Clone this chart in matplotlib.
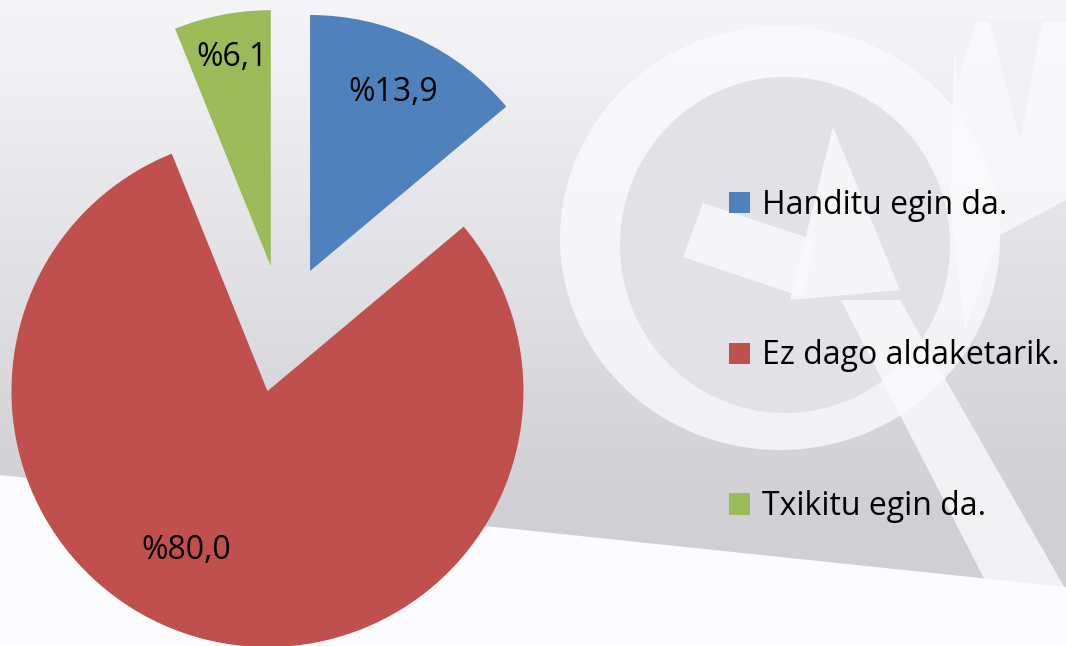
import numpy as np
import matplotlib
matplotlib.use("Agg")
import matplotlib.pyplot as plt
from matplotlib.patches import Polygon, Ellipse, Patch

# ---- data ----
categories = ["Handitu egin da.", "Ez dago aldaketarik.", "Txikitu egin da."]
values = [13.9, 80.0, 6.1]
colors = ["#4F81BD", "#C0504D", "#9BBB59"]

W, H = 1066, 646
FONT = "Open Sans"
FS = 23
fig = plt.figure(figsize=(W / 100, H / 100), dpi=100)

# ---- background (pixel coordinates) ----
bg = fig.add_axes([0, 0, 1, 1])
bg.set_xlim(0, W)
bg.set_ylim(H, 0)
bg.axis("off")
top = np.array([0.962, 0.962, 0.970])
bot = np.array([0.812, 0.812, 0.832])


def gcol(y):
    tt = min(y / H / 0.78, 1)
    return top * (1 - tt) + bot * tt


grad = np.array([gcol(y) for y in range(H)])
img = np.repeat(grad[:, None, :], W, axis=1)
bg.imshow(img, extent=(0, W, H, 0), aspect="auto", zorder=0)

wm = dict(facecolor="#fafafc", edgecolor="none", alpha=0.8)
# watermark ring
bg.add_patch(Ellipse((780, 238), 440, 424, zorder=1, **wm))
bg.add_patch(Ellipse((785, 245), 330, 336, facecolor=gcol(250), edgecolor="none", zorder=1.5))
# G bar and arrow head
bg.add_patch(Polygon([(703, 203), (683, 257), (803, 297), (815, 240)], closed=True, zorder=1.6, **wm))
bg.add_patch(Polygon([(833, 127), (790, 300), (900, 290)], closed=True, zorder=1.6, **wm))
# right "V" shape with grey notches
bg.add_patch(Polygon([(955, 22), (W, 22), (W, 200), (1000, 235), (965, 330), (950, 200)],
                     closed=True, zorder=1.6, **wm))
for tri, yc in [([(990, 22), (1042, 22), (1020, 140)], 70),
                ([(950, 22), (977, 22), (958, 80)], 50)]:
    bg.add_patch(Polygon(tri, closed=True, facecolor=gcol(yc), edgecolor="none", zorder=1.7))
# magnifier tail
bg.add_patch(Polygon([(841, 300), (900, 300), (1066, 590), (990, 590)], closed=True, zorder=1.8, **wm))
# white lower band
bg.add_patch(Polygon([(0, 475), (W, 587), (W, H), (0, H)], closed=True,
                     facecolor="#fbfafd", edgecolor="none", zorder=2))

# ---- pie (unit coordinates, 256 px per unit) ----
R_PX = 256.0
CX, CY = 283.0, 329.0
ax = fig.add_axes([0, 0, 1, 1])
ax.patch.set_alpha(0)


def fmt(p):
    return "%" + f"{p:.1f}".replace(".", ",")


wedges, texts, autotexts = ax.pie(
    values, colors=colors, startangle=90, counterclock=False,
    explode=[0.25] * len(values), radius=1.0, autopct=fmt, pctdistance=0.77,
    textprops=dict(fontsize=FS, family=FONT, color="black"),
    wedgeprops=dict(linewidth=0),
)
ax.set_xlim(-CX / R_PX, (W - CX) / R_PX)
ax.set_ylim(-(H - CY) / R_PX, CY / R_PX)
ax.set_aspect("auto")
ax.axis("off")

# label placement tweaks (distance from wedge apex, angle in degrees)
label_place = {1: (0.70, -117.0), 2: (0.83, 100.5)}
for i, (d, a) in label_place.items():
    cx, cy = wedges[i].center
    r = np.deg2rad(a)
    autotexts[i].set_position((cx + d * np.cos(r), cy + d * np.sin(r)))

handles = [Patch(facecolor=c, edgecolor="none") for c in colors]
fig.legend(handles, categories, loc="center left",
           bbox_to_anchor=(729 / W, 1 - 356 / H), frameon=False,
           prop=dict(family=FONT, size=FS), borderpad=0, borderaxespad=0,
           handlelength=0.66, handleheight=0.66, handletextpad=0.36,
           labelspacing=3.68)

fig.savefig("out.png", dpi=100)
